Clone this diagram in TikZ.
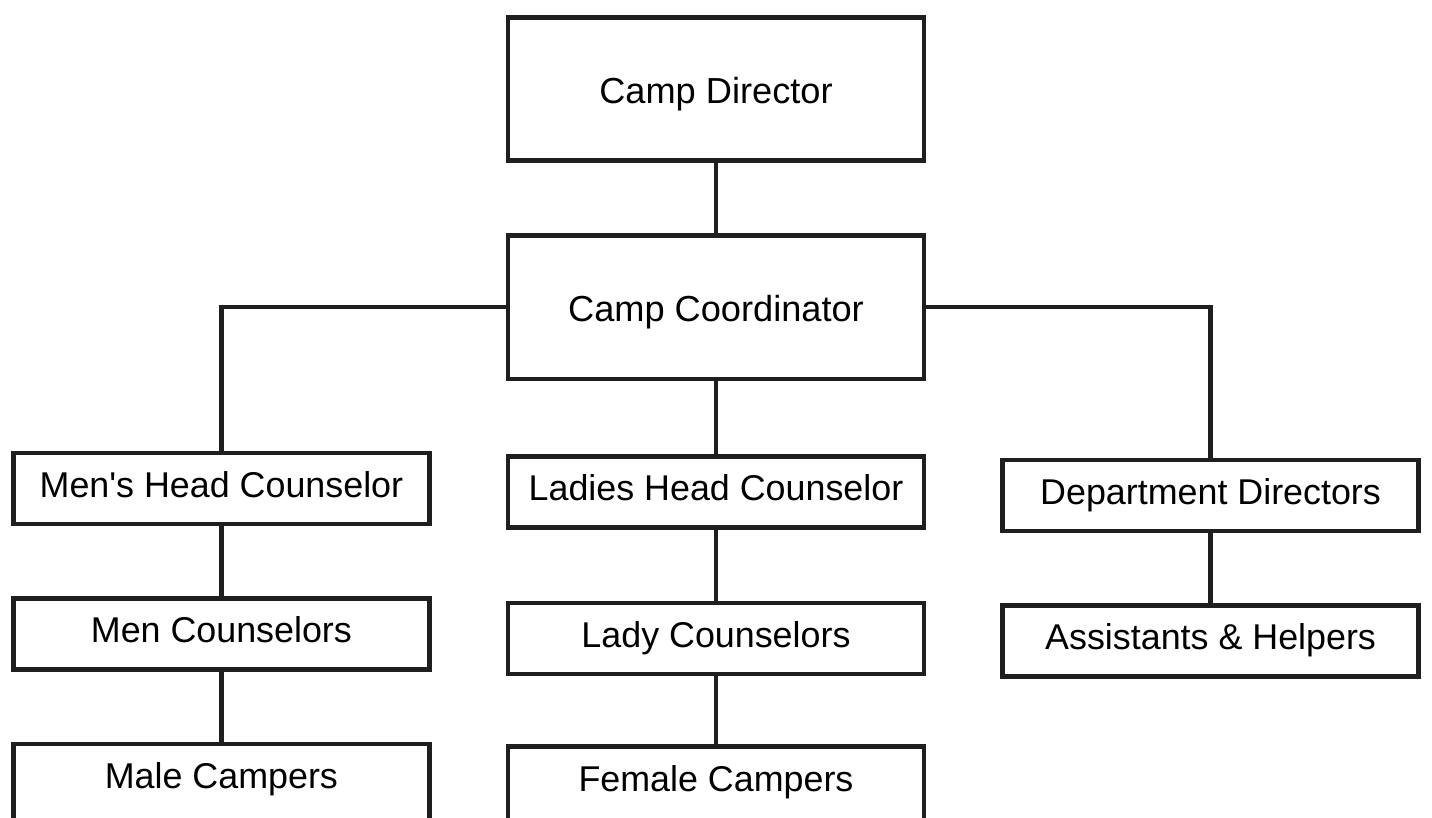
\documentclass[tikz,border=0pt]{standalone}
\usepackage{fontspec}
\setmainfont{Liberation Sans}
\usetikzlibrary{positioning}

\begin{document}
\begin{tikzpicture}[node distance=1.4cm]
	\tikzstyle{rect_big}=[draw=black!88, line width=2.6pt, rectangle, minimum width=8.32cm, minimum height=2.87cm, text centered, text height=0.62cm, text depth=0.04cm, font=\fontsize{20.6}{24}\selectfont]
	\tikzstyle{rect_s}=[draw=black!88, line width=2.6pt, rectangle, minimum width=8.32cm, minimum height=1.42cm, text centered, text height=0.52cm, text depth=0.16cm, font=\fontsize{20.4}{24}\selectfont]
	\tikzstyle{rect_cut}=[rect_s, minimum height=1.92cm, text depth=0.66cm]
	\tikzstyle{link}=[draw=black!88, line width=2.4pt]

	\useasboundingbox (-14.32,1.78) rectangle (14.32,-14.56);
	\clip (-14.32,1.78) rectangle (14.32,-14.56);

	\node[rect_big] (dir) at (0,0) {Camp Director};
	\node[rect_big] (coord) [below=of dir] {Camp Coordinator};
	\node[rect_s] (lhead) [below=1.46cm of coord] {Ladies Head Counselor};
	\node[rect_s] (lcoun) [below=1.42cm of lhead] {Lady Counselors};
	\node[rect_cut] (fcamp) [below=1.36cm of lcoun] {Female Campers};
	\node[rect_s] (mhead) [left=1.48cm of lhead, yshift=0.07cm] {Men\textquotesingle s Head Counselor};
	\node[rect_s] (mcoun) [below=of mhead] {Men Counselors};
	\node[rect_cut] (mcamp) [below=of mcoun] {Male Campers};
	\node[rect_s] (dept) [right=1.48cm of lhead, yshift=-0.07cm] {Department Directors};
	\node[rect_s] (assist) [below=of dept] {Assistants \& Helpers};

	\draw[link] (dir) -- (coord);
	\draw[link] (coord.west) -| (mhead.north);
	\draw[link] (coord.east) -| (dept.north);
	\draw[link] (coord) -- (lhead);
	\draw[link] (lhead) -- (lcoun);
	\draw[link] (lcoun) -- (fcamp);
	\draw[link] (mhead) -- (mcoun);
	\draw[link] (mcoun) -- (mcamp);
	\draw[link] (dept) -- (assist);
\end{tikzpicture}
\end{document}
